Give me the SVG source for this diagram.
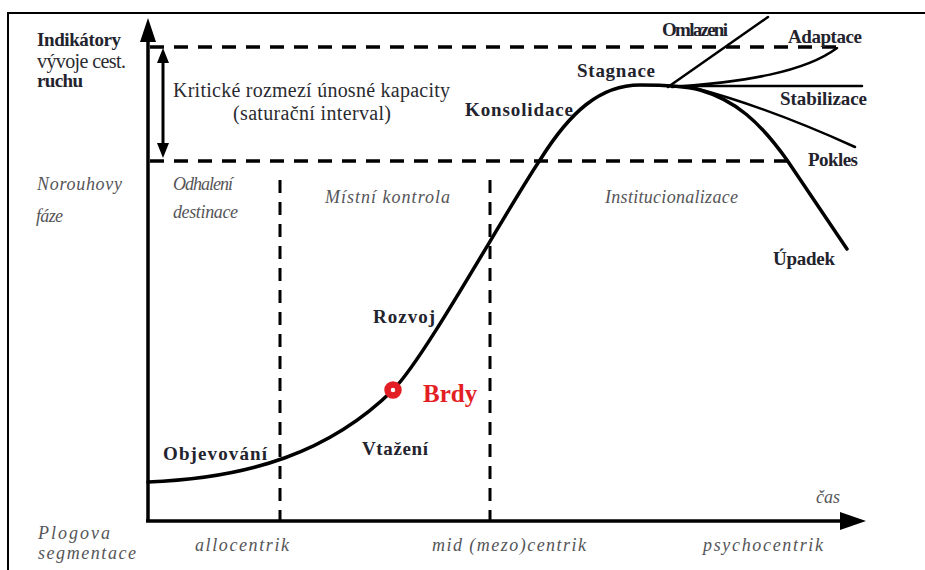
<svg xmlns="http://www.w3.org/2000/svg" width="925" height="570" viewBox="0 0 925 570" font-family="Liberation Serif, DejaVu Serif, serif">
<defs>
<style>
.b{font-weight:bold;font-size:19px;fill:#23232e}
.r{font-size:20px;fill:#2a2a30}
.i{font-style:italic;font-size:18px;fill:#555558}
.ax{stroke:#000;stroke-width:3.5;fill:none}
.dh{stroke:#000;stroke-width:3.5;stroke-dasharray:14 10;fill:none}
.dv{stroke:#000;stroke-width:3;stroke-dasharray:13 9;fill:none}
.cv{stroke:#000;stroke-width:3.5;fill:none;stroke-linecap:round}
.br{stroke:#000;stroke-width:2.5;fill:none;stroke-linecap:round}
</style>
</defs>
<rect width="925" height="570" fill="#fff"/>
<rect x="8" y="13" width="1000" height="1000" fill="none" stroke="#000" stroke-width="2"/>

<g id="axes">
<line class="ax" x1="148" y1="522" x2="148" y2="38"/>
<polygon points="148,18 140,42 156,42" fill="#000"/>
<line class="ax" x1="146" y1="521" x2="845" y2="521"/>
<polygon points="866,521 840,512 840,530" fill="#000"/>
</g>

<g id="connectors">
<line class="dh" x1="150" y1="47" x2="840" y2="47"/>
<line class="dh" x1="150" y1="161" x2="792" y2="161"/>
<line class="dv" x1="280" y1="180" x2="280" y2="520"/>
<line class="dv" x1="490" y1="180" x2="490" y2="520"/>
<line stroke="#000" stroke-width="3" x1="163" y1="60" x2="163" y2="146"/>
<polygon points="163,48 157,63 169,63" fill="#000"/>
<polygon points="163,158 157,143 169,143" fill="#000"/>
<path class="cv" d="M148,482 C250,478 330,452 393,390 C425,358 505,212 540,160 C570,112 600,85 640,85 C660,85 685,86 700,90 C735,100 760,122 787,160 L847,249"/>
<line class="br" x1="668" y1="87" x2="768" y2="17"/>
<path class="br" d="M672,87 C745,82 805,72 837,48"/>
<line class="br" x1="680" y1="86" x2="862" y2="86" stroke-width="3"/>
<path class="br" d="M695,88 C740,100 800,122 855,147"/>
</g>

<g id="brdy-point">
<circle cx="393" cy="390" r="5.5" fill="#fff" stroke="#e31e24" stroke-width="6.5"/>
</g>

<g id="labels-left">
<text class="b" x="37" y="46" font-size="14" textLength="84" lengthAdjust="spacing">Indikátory</text>
<text class="r" x="37" y="68" font-size="12" textLength="89" lengthAdjust="spacing">vývoje cest.</text>
<text class="b" x="37" y="87" font-size="15" textLength="46" lengthAdjust="spacing">ruchu</text>
<text class="i" x="37" y="190" textLength="85" lengthAdjust="spacing">Norouhovy</text>
<text class="i" x="36" y="222" font-size="17" textLength="27" lengthAdjust="spacing">fáze</text>
<text class="i" x="38" y="539" font-size="16" textLength="72" lengthAdjust="spacing">Plogova</text>
<text class="i" x="38" y="559" font-size="16" textLength="98" lengthAdjust="spacing">segmentace</text>
</g>

<g id="saturation">
<text class="r" x="173" y="97" textLength="277" lengthAdjust="spacing">Kritické rozmezí únosné kapacity</text>
<text class="r" x="233" y="120" textLength="158" lengthAdjust="spacing">(saturační interval)</text>
</g>

<g id="phases">
<text class="i" x="173" y="190" font-size="16" textLength="60" lengthAdjust="spacing">Odhalení</text>
<text class="i" x="173" y="218" font-size="17" textLength="65" lengthAdjust="spacing">destinace</text>
<text class="i" x="325" y="203" textLength="125" lengthAdjust="spacing">Místní kontrola</text>
<text class="i" x="605" y="203" textLength="133" lengthAdjust="spacing">Institucionalizace</text>
</g>

<g id="stages">
<text class="b" x="163" y="460" textLength="104" lengthAdjust="spacing">Objevování</text>
<text class="b" x="362" y="455" textLength="66" lengthAdjust="spacing">Vtažení</text>
<text class="b" x="373" y="323" textLength="62" lengthAdjust="spacing">Rozvoj</text>
<text class="b" x="465" y="116" textLength="108" lengthAdjust="spacing">Konsolidace</text>
<text class="b" x="577" y="77" textLength="78" lengthAdjust="spacing">Stagnace</text>
<text class="b" x="662" y="36" font-size="16" textLength="66" lengthAdjust="spacing">Omlazeni</text>
<text class="b" x="788" y="43" font-size="18" textLength="74" lengthAdjust="spacing">Adaptace</text>
<text class="b" x="780" y="105" font-size="18" textLength="87" lengthAdjust="spacing">Stabilizace</text>
<text class="b" x="808" y="166" font-size="18" textLength="50" lengthAdjust="spacing">Pokles</text>
<text class="b" x="773" y="265" font-size="18" textLength="62" lengthAdjust="spacing">Úpadek</text>
</g>

<g id="brdy-label">
<text x="423" y="402" font-size="25" font-weight="bold" fill="#e31e24">Brdy</text>
</g>

<g id="segments">
<text class="i" x="816" y="503" font-size="18">čas</text>
<text class="i" x="195" y="551" font-size="19" textLength="94" lengthAdjust="spacing">allocentrik</text>
<text class="i" x="432" y="551" font-size="19" textLength="154" lengthAdjust="spacing">mid (mezo)centrik</text>
<text class="i" x="703" y="551" font-size="19" textLength="120" lengthAdjust="spacing">psychocentrik</text>
</g>
</svg>
